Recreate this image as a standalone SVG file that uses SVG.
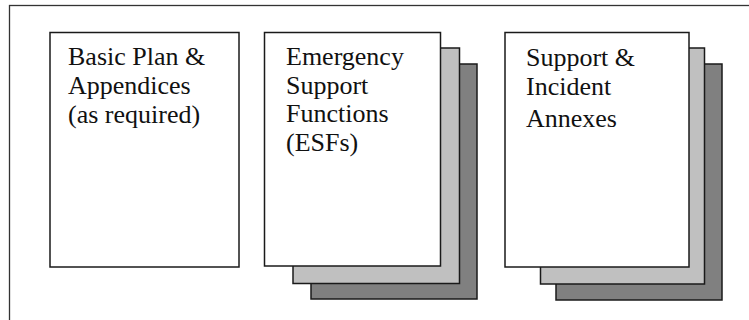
<svg xmlns="http://www.w3.org/2000/svg" width="749" height="320" viewBox="0 0 749 320">
<style>
.pg{stroke:#1a1a1a;stroke-width:1.5}
.front{fill:#ffffff}
.mid{fill:#c0c0c0}
.back{fill:#808080}
.t{font-size:26px;fill:#111}
</style>
<rect x="0" y="0" width="749" height="320" fill="#ffffff"/>
<rect id="frame" x="9.5" y="5.5" width="800" height="400" fill="none" stroke="#333" stroke-width="1.3"/>
<g font-family="Liberation Serif, Times New Roman, serif">
<g id="basic-plan">
<rect class="pg front" x="50" y="32.5" width="189" height="234.5"/>
<text class="t" x="68" y="65">Basic Plan &amp;</text>
<text class="t" x="68" y="94">Appendices</text>
<text class="t" x="68" y="122.5">(as required)</text>
</g>
<g id="esfs">
<rect class="pg back" x="311" y="64" width="166" height="235"/>
<rect class="pg mid" x="293" y="48" width="166.5" height="235.5"/>
<rect class="pg front" x="264.5" y="32.5" width="176" height="233.5"/>
<text class="t" x="286" y="65">Emergency</text>
<text class="t" x="286" y="93.5">Support</text>
<text class="t" x="286" y="122">Functions</text>
<text class="t" x="286" y="150.5">(ESFs)</text>
</g>
<g id="annexes">
<rect class="pg back" x="556" y="64" width="166" height="236"/>
<rect class="pg mid" x="540.5" y="48" width="164" height="236"/>
<rect class="pg front" x="505" y="32.5" width="184" height="234.5"/>
<text class="t" x="526" y="66">Support &amp;</text>
<text class="t" x="526" y="95">Incident</text>
<text class="t" x="526" y="126.5">Annexes</text>
</g>
</g>
<g id="connectors"/>
</svg>
